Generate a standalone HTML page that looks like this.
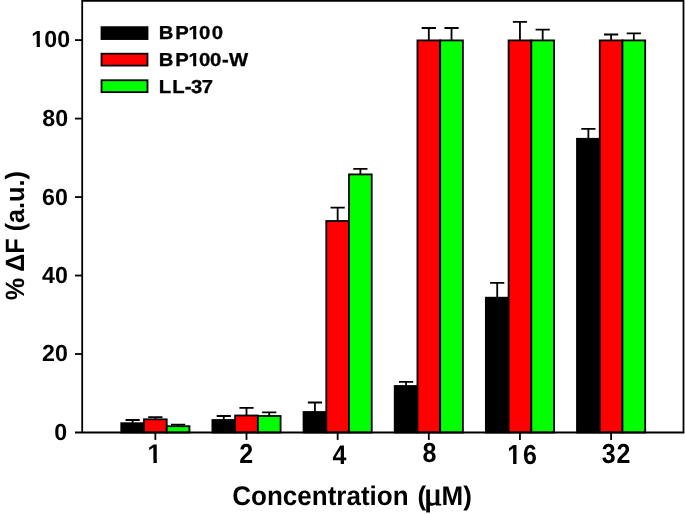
<!DOCTYPE html>
<html><head><meta charset="utf-8"><title>chart</title>
<style>html,body{margin:0;padding:0;background:#fff;overflow:hidden;}svg{display:block;will-change:transform;}text{font-family:"Liberation Sans",sans-serif;font-weight:bold;fill:#000;text-rendering:geometricPrecision;}</style></head><body>
<svg width="685" height="515" viewBox="0 0 685 515">
<rect x="0" y="0" width="685" height="515" fill="#fff"/>
<path d="M132.62 423.20V420.00M125.52 420.00H139.72" stroke="#000" stroke-width="1.8" fill="none"/>
<path d="M155.35 419.30V417.10M148.25 417.10H162.45" stroke="#000" stroke-width="1.8" fill="none"/>
<path d="M178.08 426.20V424.60M170.98 424.60H185.18" stroke="#000" stroke-width="1.8" fill="none"/>
<path d="M223.77 420.00V416.00M216.67 416.00H230.87" stroke="#000" stroke-width="1.8" fill="none"/>
<path d="M246.50 415.50V407.90M239.40 407.90H253.60" stroke="#000" stroke-width="1.8" fill="none"/>
<path d="M269.23 416.00V412.30M262.13 412.30H276.33" stroke="#000" stroke-width="1.8" fill="none"/>
<path d="M314.92 412.00V402.50M307.82 402.50H322.02" stroke="#000" stroke-width="1.8" fill="none"/>
<path d="M337.65 221.00V207.70M330.55 207.70H344.75" stroke="#000" stroke-width="1.8" fill="none"/>
<path d="M360.38 174.40V168.90M353.28 168.90H367.48" stroke="#000" stroke-width="1.8" fill="none"/>
<path d="M406.07 386.00V381.80M398.97 381.80H413.17" stroke="#000" stroke-width="1.8" fill="none"/>
<path d="M428.80 40.40V28.00M421.70 28.00H435.90" stroke="#000" stroke-width="1.8" fill="none"/>
<path d="M451.53 40.40V28.00M444.43 28.00H458.63" stroke="#000" stroke-width="1.8" fill="none"/>
<path d="M497.22 297.70V282.90M490.12 282.90H504.32" stroke="#000" stroke-width="1.8" fill="none"/>
<path d="M519.95 40.40V21.80M512.85 21.80H527.05" stroke="#000" stroke-width="1.8" fill="none"/>
<path d="M542.68 40.40V29.70M535.58 29.70H549.78" stroke="#000" stroke-width="1.8" fill="none"/>
<path d="M588.37 138.80V128.90M581.27 128.90H595.47" stroke="#000" stroke-width="1.8" fill="none"/>
<path d="M611.10 40.40V34.50M604.00 34.50H618.20" stroke="#000" stroke-width="1.8" fill="none"/>
<path d="M633.83 40.40V33.30M626.73 33.30H640.93" stroke="#000" stroke-width="1.8" fill="none"/>
<rect x="121.25" y="423.20" width="22.73" height="9.30" fill="#000000" stroke="#000" stroke-width="1.8"/>
<rect x="143.98" y="419.30" width="22.73" height="13.20" fill="#ff0000" stroke="#000" stroke-width="1.8"/>
<rect x="166.72" y="426.20" width="22.73" height="6.30" fill="#00ff00" stroke="#000" stroke-width="1.8"/>
<rect x="212.41" y="420.00" width="22.73" height="12.50" fill="#000000" stroke="#000" stroke-width="1.8"/>
<rect x="235.13" y="415.50" width="22.73" height="17.00" fill="#ff0000" stroke="#000" stroke-width="1.8"/>
<rect x="257.87" y="416.00" width="22.73" height="16.50" fill="#00ff00" stroke="#000" stroke-width="1.8"/>
<rect x="303.55" y="412.00" width="22.73" height="20.50" fill="#000000" stroke="#000" stroke-width="1.8"/>
<rect x="326.28" y="221.00" width="22.73" height="211.50" fill="#ff0000" stroke="#000" stroke-width="1.8"/>
<rect x="349.01" y="174.40" width="22.73" height="258.10" fill="#00ff00" stroke="#000" stroke-width="1.8"/>
<rect x="394.71" y="386.00" width="22.73" height="46.50" fill="#000000" stroke="#000" stroke-width="1.8"/>
<rect x="417.44" y="40.40" width="22.73" height="392.10" fill="#ff0000" stroke="#000" stroke-width="1.8"/>
<rect x="440.17" y="40.40" width="22.73" height="392.10" fill="#00ff00" stroke="#000" stroke-width="1.8"/>
<rect x="485.86" y="297.70" width="22.73" height="134.80" fill="#000000" stroke="#000" stroke-width="1.8"/>
<rect x="508.59" y="40.40" width="22.73" height="392.10" fill="#ff0000" stroke="#000" stroke-width="1.8"/>
<rect x="531.32" y="40.40" width="22.73" height="392.10" fill="#00ff00" stroke="#000" stroke-width="1.8"/>
<rect x="577.00" y="138.80" width="22.73" height="293.70" fill="#000000" stroke="#000" stroke-width="1.8"/>
<rect x="599.74" y="40.40" width="22.73" height="392.10" fill="#ff0000" stroke="#000" stroke-width="1.8"/>
<rect x="622.47" y="40.40" width="22.73" height="392.10" fill="#00ff00" stroke="#000" stroke-width="1.8"/>
<path d="M82.2 432.5V0.8H683.5V432.5" fill="none" stroke="#000" stroke-width="1.8"/>
<path d="M75.0 432.5H684.4" fill="none" stroke="#000" stroke-width="1.8"/>
<path d="M75.0 354.02H82.2" stroke="#000" stroke-width="1.8"/>
<path d="M75.0 275.54H82.2" stroke="#000" stroke-width="1.8"/>
<path d="M75.0 197.06H82.2" stroke="#000" stroke-width="1.8"/>
<path d="M75.0 118.58H82.2" stroke="#000" stroke-width="1.8"/>
<path d="M75.0 40.10H82.2" stroke="#000" stroke-width="1.8"/>
<path d="M155.35 432.5V439.9" stroke="#000" stroke-width="1.8"/>
<path d="M246.50 432.5V439.9" stroke="#000" stroke-width="1.8"/>
<path d="M337.65 432.5V439.9" stroke="#000" stroke-width="1.8"/>
<path d="M428.80 432.5V439.9" stroke="#000" stroke-width="1.8"/>
<path d="M519.95 432.5V439.9" stroke="#000" stroke-width="1.8"/>
<path d="M611.10 432.5V439.9" stroke="#000" stroke-width="1.8"/>
<rect x="101.5" y="27.15" width="46.0" height="11.9" fill="#000000" stroke="#000" stroke-width="1.8"/>
<rect x="101.5" y="53.70" width="46.0" height="11.9" fill="#ff0000" stroke="#000" stroke-width="1.8"/>
<rect x="101.5" y="80.25" width="46.0" height="11.9" fill="#00ff00" stroke="#000" stroke-width="1.8"/>
<text transform="translate(0,47.10) scale(1,1.0000)" x="31.31 44.23 57.23" y="0" font-size="23.2">100</text>
<text transform="translate(0,126.10) scale(1,1.0000)" x="42.36 55.28" y="0" font-size="23.2">80</text>
<text transform="translate(0,205.10) scale(1,1.0000)" x="41.95 55.03" y="0" font-size="23.2">60</text>
<text transform="translate(0,283.10) scale(1,1.0000)" x="41.95 55.03" y="0" font-size="23.2">40</text>
<text transform="translate(0,361.10) scale(1,1.0000)" x="42.00 55.03" y="0" font-size="23.2">20</text>
<text transform="translate(0,440.10) scale(1,1.0000)" x="54.33" y="0" font-size="23.2">0</text>
<text transform="translate(0,463.10) scale(1,1.0800)" x="147.59" y="0" font-size="25">1</text>
<text transform="translate(0,463.10) scale(1,1.1000)" x="239.28" y="0" font-size="25">2</text>
<text transform="translate(0,464.10) scale(1,1.0800)" x="332.47" y="0" font-size="25">4</text>
<text transform="translate(0,462.10) scale(1,1.1000)" x="422.56" y="0" font-size="25">8</text>
<text transform="translate(0,464.10) scale(1,1.1000)" x="507.24 522.93" y="0" font-size="25">16</text>
<text transform="translate(0,463.10) scale(1,1.1000)" x="601.68 616.58" y="0" font-size="25">32</text>
<text transform="translate(0,39.10) scale(1,0.9270)" x="158.84 175.24 188.61 199.10 211.70" y="0" font-size="20.3" stroke="#000" stroke-width="0.35">BP100</text>
<text transform="translate(0,66.10) scale(1,0.9270)" x="158.84 175.24 188.61 199.10 210.00 222.11 228.98" y="0" font-size="20.3" stroke="#000" stroke-width="0.35">BP100-W</text>
<text transform="translate(0,93.10) scale(1,0.9270)" x="158.84 172.24 184.71 190.93 201.83" y="0" font-size="20.3" stroke="#000" stroke-width="0.35">LL-37</text>
<text transform="translate(232.30,505.10) scale(1.0000,1.0400)" font-size="26" letter-spacing="0">Concentration</text>
<text transform="translate(23.80,300.30) rotate(-90) scale(1.0000,1.0500)" font-size="25.2" letter-spacing="0">% ΔF (a.u.)</text>
<text transform="translate(417.60,505.10) scale(1.0000,1.0400)" font-size="26" letter-spacing="0">(</text>
<text transform="translate(423.95,505.10) scale(1.0000,0.9600)" font-size="34" letter-spacing="0" style="font-family:'Liberation Serif',serif;font-weight:normal" stroke="#000" stroke-width="0.9">μ</text>
<text transform="translate(441.60,505.10) scale(1.0000,1.0400)" font-size="26" letter-spacing="0">M)</text>
<rect x="31.67" y="44.09" width="5.05" height="4.51" fill="#fff"/>
<rect x="39.92" y="44.09" width="4.63" height="4.51" fill="#fff"/>
<rect x="148.04" y="459.69" width="5.38" height="4.91" fill="#fff"/>
<rect x="156.87" y="459.69" width="4.92" height="4.91" fill="#fff"/>
<rect x="507.69" y="460.64" width="5.38" height="4.96" fill="#fff"/>
<rect x="516.52" y="460.64" width="4.92" height="4.96" fill="#fff"/>
<rect x="188.65" y="36.37" width="4.51" height="4.41" fill="#fff"/>
<rect x="196.32" y="36.37" width="4.15" height="4.41" fill="#fff"/>
<rect x="188.65" y="63.37" width="4.51" height="4.41" fill="#fff"/>
<rect x="196.32" y="63.37" width="4.15" height="4.41" fill="#fff"/>
</svg></body></html>
